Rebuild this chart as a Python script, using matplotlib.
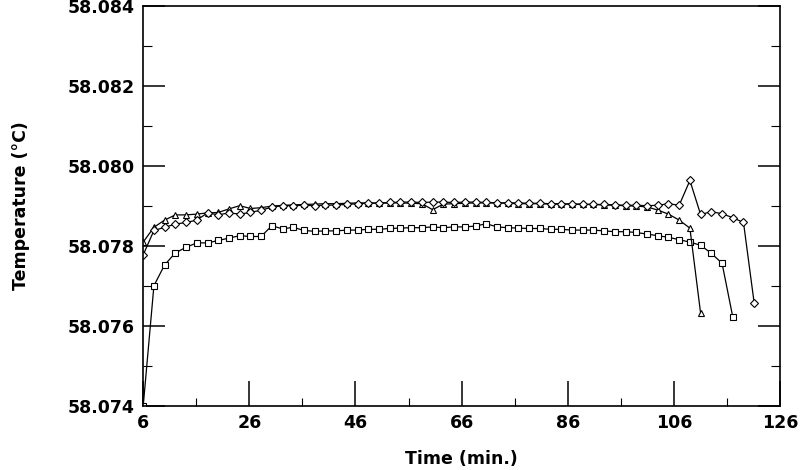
import numpy as np
import matplotlib
matplotlib.use("Agg")
import matplotlib.pyplot as plt
from matplotlib.ticker import MultipleLocator, FormatStrFormatter

# readings taken about every 2 min, starting at t = 6 min
t_start = 6.0
t_step = 2.02

squares = [58.0740, 58.07701, 58.07753, 58.07783, 58.07797, 58.07808, 58.07808,
           58.07814, 58.07820, 58.07826, 58.07824, 58.07824, 58.07851, 58.07843,
           58.07847, 58.07839, 58.07837, 58.07838, 58.07838, 58.07840, 58.07840,
           58.07842, 58.07842, 58.07844, 58.07845, 58.07846, 58.07846, 58.07848,
           58.07846, 58.07848, 58.07848, 58.07850, 58.07856, 58.07848, 58.07846,
           58.07845, 58.07844, 58.07844, 58.07842, 58.07842, 58.07840, 58.07840,
           58.07840, 58.07838, 58.07836, 58.07836, 58.07834, 58.07830, 58.07826,
           58.07822, 58.07816, 58.07810, 58.07802, 58.07782, 58.07757, 58.07623]

triangles = [58.07810, 58.07847, 58.07865, 58.07878, 58.07878, 58.07880, 58.07883,
             58.07884, 58.07893, 58.07901, 58.07894, 58.07896, 58.07900, 58.07902,
             58.07903, 58.07904, 58.07905, 58.07906, 58.07906, 58.07907, 58.07908,
             58.07908, 58.07907, 58.07908, 58.07908, 58.07907, 58.07906, 58.07891,
             58.07905, 58.07906, 58.07907, 58.07908, 58.07908, 58.07908, 58.07907,
             58.07906, 58.07906, 58.07906, 58.07905, 58.07905, 58.07905, 58.07904,
             58.07904, 58.07903, 58.07902, 58.07901, 58.07900, 58.07898, 58.07890,
             58.07880, 58.07865, 58.07845, 58.07632]

diamonds = [58.07778, 58.07839, 58.07847, 58.07855, 58.07859, 58.07865, 58.07883,
            58.07878, 58.07883, 58.07880, 58.07884, 58.07890, 58.07897, 58.07901,
            58.07901, 58.07902, 58.07901, 58.07902, 58.07903, 58.07904, 58.07906,
            58.07907, 58.07908, 58.07909, 58.07910, 58.07910, 58.07909, 58.07910,
            58.07910, 58.07909, 58.07910, 58.07910, 58.07909, 58.07908, 58.07908,
            58.07908, 58.07907, 58.07907, 58.07906, 58.07906, 58.07905, 58.07905,
            58.07904, 58.07904, 58.07903, 58.07902, 58.07902, 58.07901, 58.07902,
            58.07906, 58.07902, 58.07964, 58.07879, 58.07886, 58.07881, 58.07871,
            58.07859, 58.07657]

series = [(squares, "s"), (triangles, "^"), (diamonds, "D")]

fig = plt.figure(figsize=(8, 4.7), dpi=100)
ax = fig.add_axes([0.179, 0.136, 0.796, 0.851])

for vals, mk in series:
    t = t_start + t_step * np.arange(len(vals))
    ms = 3.8 if mk == "D" else 4.5
    ax.plot(t, vals, color="black", lw=0.9, marker=mk, ms=ms,
            mfc="white", mec="black", mew=0.8)

ax.set_xlim(6, 126)
ax.set_ylim(58.074, 58.084)
ax.xaxis.set_major_locator(MultipleLocator(20, offset=6))
ax.xaxis.set_minor_locator(MultipleLocator(10, offset=6))
ax.yaxis.set_major_locator(MultipleLocator(0.002))
ax.yaxis.set_minor_locator(MultipleLocator(0.001))
ax.yaxis.set_major_formatter(FormatStrFormatter("%.3f"))

ax.tick_params(axis="x", which="major", direction="in", length=18, width=1.1, pad=6)
ax.tick_params(axis="x", which="minor", direction="in", length=6, width=0.8)
ax.tick_params(axis="y", which="major", direction="in", length=16, width=1.1, pad=6,
               right=True)
ax.tick_params(axis="y", which="minor", direction="in", length=6.5, width=0.8,
               right=True)

for lab in ax.get_xticklabels() + ax.get_yticklabels():
    lab.set_fontweight("bold")
    lab.set_fontsize(12.5)

for sp in ax.spines.values():
    sp.set_linewidth(1.2)

ax.set_xlabel("Time (min.)", fontsize=12.5, fontweight="bold", labelpad=13)
ax.set_ylabel("Temperature (°C)", fontsize=12.5, fontweight="bold", labelpad=27)

fig.savefig("out.png", dpi=100)
